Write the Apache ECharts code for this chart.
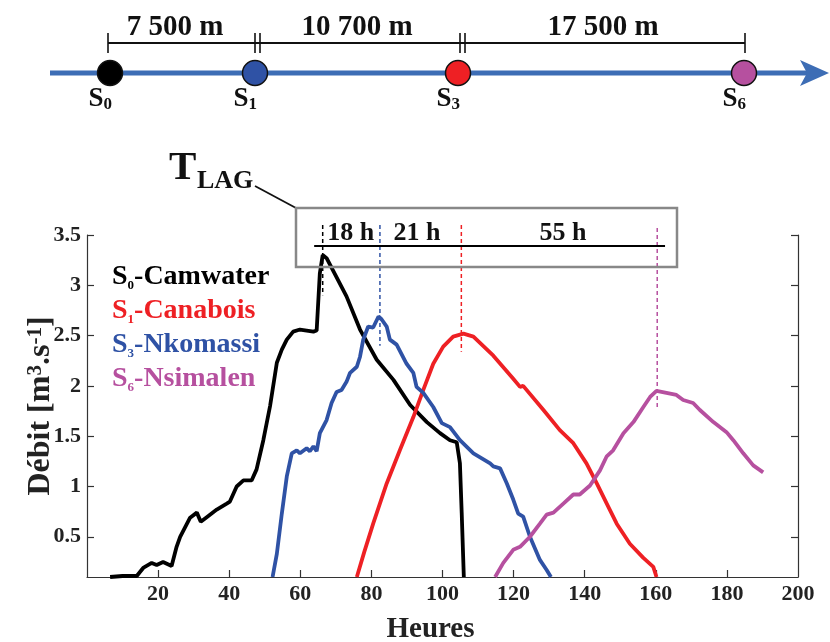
<!DOCTYPE html>
<html><head><meta charset="utf-8">
<script src="https://cdn.jsdelivr.net/npm/echarts@6/dist/echarts.min.js"></script>
<style>html,body{margin:0;padding:0;background:#fff}#c{width:830px;height:642px}</style>
</head><body><div id="c"></div>
<script>
// ---- data ----
const s0Hours = [6.5, 10, 14, 15.8, 18.2, 19.6, 21.4, 23.8, 25.2, 26.2, 29, 30.9, 32, 33.5, 36.5, 39.3, 40.2, 42.1, 44, 46.3, 47.7, 49.6, 51.5, 53.4, 54.8, 56.2, 58, 59.9, 63.7, 64.6, 65.5, 66.3, 67.4, 73, 76.8, 81.5, 86.2, 90.9, 95.6, 99.3, 102.1, 104, 104.9, 105.4, 106];
const s0Flow  = [0.1, 0.11, 0.11, 0.19, 0.24, 0.22, 0.25, 0.21, 0.4, 0.5, 0.69, 0.74, 0.65, 0.69, 0.77, 0.83, 0.85, 1.0, 1.06, 1.06, 1.17, 1.46, 1.8, 2.23, 2.36, 2.46, 2.54, 2.56, 2.54, 2.55, 3.12, 3.3, 3.27, 2.89, 2.56, 2.26, 2.06, 1.81, 1.64, 1.53, 1.46, 1.44, 1.23, 0.74, 0.1];

const s1Hours = [75.9, 78, 80.5, 84.3, 88, 91.8, 94.6, 97.4, 100.2, 103, 105.9, 108.7, 114.3, 119.9, 121.8, 122.7, 128.4, 133, 136.8, 140.5, 143.4, 146.2, 149, 152.7, 156.5, 159.3, 160.2];
const s1Flow  = [0.1, 0.35, 0.63, 1.03, 1.36, 1.69, 1.96, 2.22, 2.39, 2.49, 2.52, 2.49, 2.3, 2.07, 1.99, 2.0, 1.76, 1.56, 1.43, 1.23, 1.03, 0.83, 0.63, 0.43, 0.29, 0.2, 0.1];

const s3Hours = [52.2, 53.4, 54.8, 56.2, 57.6, 59, 59.9, 61.8, 62.7, 63.7, 64.6, 65.5, 67.4, 68.8, 70.2, 71.6, 73, 74, 75.9, 76.8, 77.7, 79.1, 80.5, 82, 82.9, 84.3, 85.2, 87.1, 89.9, 91.8, 92.7, 94.6, 97.4, 99.8, 102.1, 104.9, 108.7, 113.4, 114.3, 116.2, 118.1, 119.9, 121.3, 122.7, 124.6, 127.4, 129.3, 130.5];
const s3Flow  = [0.1, 0.33, 0.73, 1.1, 1.33, 1.36, 1.33, 1.38, 1.35, 1.4, 1.35, 1.53, 1.66, 1.83, 1.94, 1.96, 2.04, 2.13, 2.19, 2.29, 2.46, 2.59, 2.58, 2.69, 2.66, 2.59, 2.46, 2.41, 2.22, 2.13, 1.99, 1.93, 1.79, 1.63, 1.59, 1.46, 1.33, 1.23, 1.2, 1.18, 1.03, 0.87, 0.73, 0.7, 0.5, 0.27, 0.17, 0.1];

const s6Hours = [114.8, 117.1, 119.9, 121.8, 124.6, 127.4, 129.3, 131.2, 134, 136.8, 138.6, 141.5, 144.3, 146.2, 148, 150.9, 153.7, 156.5, 158.4, 160.2, 163, 165.8, 167.7, 170.5, 172.4, 176.2, 179.9, 181.8, 184.6, 187.4, 190.2];
const s6Flow  = [0.1, 0.24, 0.37, 0.4, 0.5, 0.63, 0.72, 0.74, 0.83, 0.92, 0.92, 1.01, 1.16, 1.3, 1.36, 1.53, 1.64, 1.79, 1.89, 1.95, 1.93, 1.91, 1.86, 1.83, 1.76, 1.64, 1.54, 1.46, 1.33, 1.21, 1.14];

// peak markers (hours) in order S0, S3, S1, S6 and the flow at which each dashed marker ends
const peakHours    = [66.3, 82.4, 105.3, 160.4];
const peakMarkLow  = [2.9, 2.4, 2.34, 1.76];
const peakMarkHigh = [3.6, 3.6, 3.6, 3.57];
// TLAG bar
const lagBarHours = [63.9, 162.6];
const lagBarFlow  = 3.39;
const lagLabels = ['18 h', '21 h', '55 h'];
const lagLabelHours = [74.2, 92.8, 133.9];
const lagLabelFlow = 3.52;

const stationSubs  = ['0', '1', '3', '6'];
const stationNames = ['Camwater', 'Canabois', 'Nkomassi', 'Nsimalen'];
const distances = ['7 500 m', '10 700 m', '17 500 m'];

const xLabelValues = [20, 40, 60, 80, 100, 120, 140, 160, 180, 200];
const xTickValues  = [20, 40, 60, 80, 100, 120, 140, 160, 180];
const yTickValues  = [0.5, 1, 1.5, 2, 2.5, 3, 3.5];

// ---- styling ----
const FONT = '"Liberation Serif","Times New Roman",serif';
const colors = ['#000000', '#ee2024', '#2f52a5', '#b6509f'];   // S0, S1, S3, S6
const peakColors = ['#000000', '#2f52a5', '#ee2024', '#b6509f'];
const circleColors = ['#000000', '#2f52a5', '#ee2024', '#b6509f'];
const seriesHours = [s0Hours, s1Hours, s3Hours, s6Hours];
const seriesFlow  = [s0Flow, s1Flow, s3Flow, s6Flow];
const pairs = (xs, ys) => xs.map((x, i) => [x, ys[i]]);
const seriesNames = stationSubs.map((s, i) => 'S' + s + '-' + stationNames[i]);

const chart = echarts.init(document.getElementById('c'), null, {renderer: 'canvas'});

const axisLineStyle = {color: '#333', width: 1.2};
const tickLabel = {fontFamily: FONT, fontWeight: 'bold', fontSize: 22, color: '#222'};

const series = [];
seriesNames.forEach((n, i) => {
  series.push({
    name: n, type: 'line', data: pairs(seriesHours[i], seriesFlow[i]),
    showSymbol: false, symbol: 'none', silent: true,
    lineStyle: {color: colors[i], width: 3.8}, itemStyle: {color: colors[i]}, z: 3
  });
});
peakHours.forEach((h, i) => {
  series.push({
    name: 'peak' + i, type: 'line', data: [[h, peakMarkHigh[i]], [h, peakMarkLow[i]]],
    showSymbol: false, symbol: 'none', clip: false, silent: true,
    lineStyle: {color: peakColors[i], width: 1.5, type: [4, 3]}, z: 4
  });
});
series.push({
  name: 'lagbar', type: 'line', data: [[lagBarHours[0], lagBarFlow], [lagBarHours[1], lagBarFlow]],
  showSymbol: false, symbol: 'none', clip: false, silent: true,
  lineStyle: {color: '#000', width: 2}, z: 4
});

const legendData = seriesNames.map((n, i) => ({
  name: n,
  textStyle: {color: colors[i], rich: {
    m: {color: colors[i], fontFamily: FONT, fontWeight: 'bold', fontSize: 28, lineHeight: 30},
    sub: {color: colors[i], fontFamily: FONT, fontWeight: 'bold', fontSize: 13, verticalAlign: 'bottom', lineHeight: 30, padding: [10, 0, 0, 0]}
  }}
}));

chart.setOption({
  animation: false,
  backgroundColor: '#fff',
  grid: {left: 87, right: 32, top: 235, bottom: 65, containLabel: false, outerBoundsMode: 'none'},
  legend: {
    data: legendData, orient: 'vertical', left: 102, top: 258, icon: 'rect',
    itemWidth: 0, itemHeight: 0, itemGap: 5, selectedMode: false, padding: 5,
    formatter: name => {
      const i = seriesNames.indexOf(name);
      return '{m|S}{sub|' + stationSubs[i] + '}{m|-' + stationNames[i] + '}';
    },
    textStyle: {fontFamily: FONT, fontWeight: 'bold', fontSize: 28}
  },
  xAxis: {
    type: 'value', min: 0, max: 200, interval: 20,
    axisLine: {show: true, lineStyle: axisLineStyle},
    axisTick: {show: true, inside: true, length: 7, customValues: xTickValues, lineStyle: axisLineStyle},
    axisLabel: Object.assign({customValues: xLabelValues, margin: 6}, tickLabel),
    splitLine: {show: false},
    name: 'Heures', nameLocation: 'middle', nameGap: 38, nameMoveOverlap: false,
    nameTextStyle: {fontFamily: FONT, fontWeight: 'bold', fontSize: 29, color: '#222', padding: [0, 24, 0, 0]}
  },
  yAxis: [{
    type: 'value', min: 0.1, max: 3.5, position: 'left',
    axisLine: {show: true, lineStyle: axisLineStyle},
    axisTick: {show: true, inside: true, length: 7, customValues: yTickValues, lineStyle: axisLineStyle},
    axisLabel: Object.assign({customValues: yTickValues, margin: 6}, tickLabel),
    splitLine: {show: false},
    name: '{t|Débit [m}{sup|3}{t|.s}{sup|-1}{t|]}', nameLocation: 'middle', nameGap: 30, nameMoveOverlap: false,
    nameTextStyle: {fontFamily: FONT, fontWeight: 'bold', fontSize: 32, color: '#222', rich: {
      t: {fontFamily: FONT, fontWeight: 'bold', fontSize: 32, color: '#222'},
      sup: {fontFamily: FONT, fontWeight: 'bold', fontSize: 21, color: '#222', verticalAlign: 'top'}
    }}
  }, {
    type: 'value', min: 0.1, max: 3.5, position: 'right',
    axisLine: {show: true, lineStyle: axisLineStyle},
    axisTick: {show: true, inside: true, length: 7, customValues: yTickValues, lineStyle: axisLineStyle},
    axisLabel: {show: false},
    splitLine: {show: false}
  }],
  series: series
});

// ---- annotations ----
const g = [];
const riverY = 73;
const stationPx = [110, 255, 458, 744];
g.push({type: 'line', shape: {x1: 50, y1: riverY, x2: 808, y2: riverY}, style: {stroke: '#3d6db5', lineWidth: 5}, z: 1});
g.push({type: 'polygon', shape: {points: [[800, 60], [829, riverY], [800, 86], [807, riverY]]}, style: {fill: '#3d6db5'}, z: 1});
stationPx.forEach((x, i) => {
  g.push({type: 'circle', shape: {cx: x, cy: riverY, r: 12.5}, style: {fill: circleColors[i], stroke: '#111', lineWidth: 1.5}, z: 2});
  g.push({type: 'text', x: x + 2, y: 99, style: {
    text: '{s|S}{b|' + stationSubs[i] + '}', align: 'right', verticalAlign: 'middle',
    rich: {s: {fontFamily: FONT, fontWeight: 'bold', fontSize: 27, fill: '#111', lineHeight: 28},
           b: {fontFamily: FONT, fontWeight: 'bold', fontSize: 17, fill: '#111', lineHeight: 28, verticalAlign: 'bottom', padding: [9, 0, 0, 0]}}
  }, z: 2});
});
const dimY = 43;
g.push({type: 'line', shape: {x1: 108, y1: dimY, x2: 745, y2: dimY}, style: {stroke: '#111', lineWidth: 2}});
[108, 255, 260, 460, 465, 745].forEach(x => {
  g.push({type: 'line', shape: {x1: x, y1: 33, x2: x, y2: 53}, style: {stroke: '#111', lineWidth: 1.6}});
});
[175, 357, 603].forEach((x, i) => {
  g.push({type: 'text', x: x, y: 28, style: {text: distances[i], align: 'center', verticalAlign: 'middle',
    font: 'bold 29px ' + FONT, fill: '#111'}});
});
// TLAG label, leader and box
g.push({type: 'text', x: 169, y: 168, style: {text: 'T', align: 'left', verticalAlign: 'middle', font: 'bold 41px ' + FONT, fill: '#111'}});
g.push({type: 'text', x: 197, y: 181, style: {text: 'LAG', align: 'left', verticalAlign: 'middle', font: 'bold 26px ' + FONT, fill: '#111'}});
g.push({type: 'line', shape: {x1: 255, y1: 186, x2: 296, y2: 208}, style: {stroke: '#111', lineWidth: 1.8}});
g.push({type: 'rect', shape: {x: 296, y: 208, width: 381, height: 59}, style: {fill: 'none', stroke: '#888', lineWidth: 2.5}, z: 5});
lagLabels.forEach((t, i) => {
  const p = chart.convertToPixel({gridIndex: 0}, [lagLabelHours[i], lagLabelFlow]);
  g.push({type: 'text', x: p[0], y: p[1], style: {text: t, align: 'center', verticalAlign: 'middle', font: 'bold 26px ' + FONT, fill: '#111'}, z: 6});
});
chart.setOption({graphic: g});
</script>
</body></html>
